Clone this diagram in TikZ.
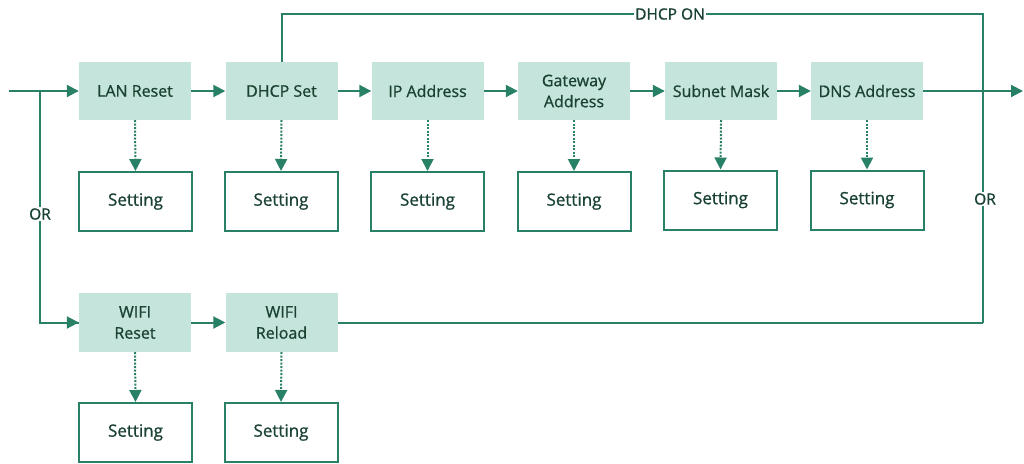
\documentclass[tikz,border=0pt]{standalone}
\usepackage{fontspec}
\setmainfont{Open Sans}
\newfontfamily\semib{Open Sans}[FakeBold=0.9]
\usetikzlibrary{arrows.meta}
\definecolor{lc}{RGB}{40,128,102}
\definecolor{fc}{RGB}{197,228,219}
\definecolor{tc}{RGB}{26,66,50}
\begin{document}
\begin{tikzpicture}[x=1pt,y=-1pt,
  proc/.style={fill=fc,draw=none,minimum width=112pt,minimum height=58pt,inner sep=0pt,align=center,text=tc,font=\semib\fontsize{16}{21}\selectfont},
  setbox/.style={draw=lc,line width=2pt,fill=white,minimum width=113pt,minimum height=59pt,inner sep=0pt,text=tc,font=\semib\fontsize{17}{18}\selectfont},
  conn/.style={draw=lc,line width=2pt},
  arr/.style={conn,-{Triangle[length=12pt,width=12pt]}},
  dotarr/.style={arr,dash pattern=on 2pt off 1.5pt},
  lbl/.style={fill=white,inner sep=1.5pt,text=tc,font=\semib\fontsize{15.5}{16}\selectfont}]
\useasboundingbox (0,0) rectangle (1024,463);
% main row
\node[proc] (lan) at (135,91) {LAN Reset};
\node[proc] (dhcp) at (281.5,91) {DHCP Set};
\node[proc] (ip) at (427.5,91) {IP Address};
\node[proc] (gw) at (574,91) {Gateway\\Address};
\node[proc] (sub) at (721,91) {Subnet Mask};
\node[proc] (dns) at (867,91) {DNS Address};
% settings
\node[setbox] (s1) at (135.5,201.5) {Setting};
\node[setbox] (s2) at (281,201.5) {Setting};
\node[setbox] (s3) at (427.5,201.5) {Setting};
\node[setbox] (s4) at (574,201.5) {Setting};
\node[setbox] (s5) at (720.5,200) {Setting};
\node[setbox] (s6) at (867,200) {Setting};
% wifi row
\node[proc,minimum height=59pt] (wr) at (135,322.5) {WIFI\\Reset};
\node[proc,minimum height=59pt] (wl) at (281.5,322.5) {WIFI\\Reload};
\node[setbox] (s7) at (135.5,432.5) {Setting};
\node[setbox] (s8) at (281,432.5) {Setting};
% coordinates
\coordinate (in) at (9,91);
\coordinate (br) at (40,91);
\coordinate (tr) at (983,14);
\coordinate (join) at (983,322.5);
\coordinate (out) at (1023,91);
% connectors
\draw[arr] (in) -- (lan);
\draw[conn] (br) |- (wr);
\draw[arr] (br |- wr.west) -- (wr.west);
\draw[arr] (lan) -- (dhcp);
\draw[arr] (dhcp) -- (ip);
\draw[arr] (ip) -- (gw);
\draw[arr] (gw) -- (sub);
\draw[arr] (sub) -- (dns);
\draw[arr] (dns) -- (out);
\draw[arr] (wr) -- (wl);
\draw[conn] (dhcp.north) |- (tr) -- (join);
\draw[conn] (wl.east) -- (join);
\foreach \a/\b in {lan/s1,dhcp/s2,ip/s3,gw/s4,sub/s5,dns/s6,wr/s7,wl/s8}
  \draw[dotarr] (\a.south) -- (\b.north);
% labels
\node[lbl] (dhcpon) at (670,14) {DHCP ON};
\node[lbl] (or1) at (40,214) {OR};
\node[lbl] (or2) at (985,199) {OR};
\end{tikzpicture}
\end{document}
